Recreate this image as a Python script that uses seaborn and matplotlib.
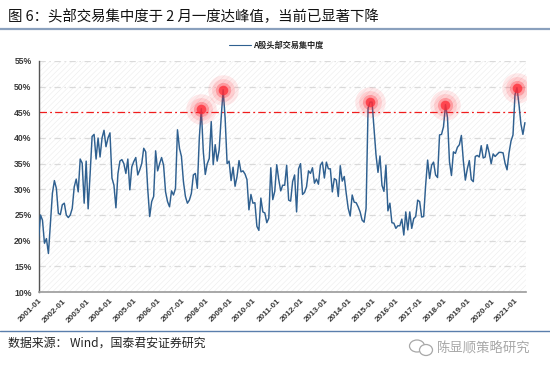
import numpy as np
import pandas as pd
import seaborn as sns
import matplotlib.pyplot as plt
from matplotlib.patches import Rectangle, Ellipse
from matplotlib.lines import Line2D

y2001 = [20, 25, 24, 19.5, 20.4, 17.5, 23.3, 29.2, 31.7, 30.2, 25.3, 25.1]
y2002 = [27, 27.3, 25, 24.5, 25, 26.3, 30.5, 32, 29.5, 35.9, 35.1, 27.3]
y2003 = [35.5, 26.2, 33, 40.3, 40.7, 35.9, 40, 36.3, 40, 41.5, 38.3, 40]
y2004 = [41, 32.2, 30.8, 26.4, 33, 35.5, 35.8, 35, 33.1, 35.9, 29.9, 34.4]
y2005 = [35.4, 36.2, 32.8, 33.8, 35, 38, 37.3, 30.2, 24.7, 27.6, 28.6, 37.5]
y2006 = [33.6, 35, 36.2, 34.7, 29.5, 27.6, 26.6, 29.7, 28.9, 30.2, 41.6, 38]
y2007 = [36.4, 31.5, 28.6, 27.3, 27.9, 29.2, 32.8, 33.1, 30.2, 40, 45.7, 37.4]
y2008 = [32.9, 35, 36, 43.2, 34.8, 38.7, 35.5, 37.7, 43.9, 49.4, 43.9, 35]
y2009 = [35.5, 31.7, 34.3, 30.6, 32.5, 35.6, 33.4, 33.6, 33, 31.9, 26, 29]
y2010 = [27.3, 27.4, 22.8, 22, 28.3, 25.6, 25.4, 23.5, 24.4, 34.2, 28, 29.6]
y2011 = [34.8, 31.9, 29.7, 30.8, 30.8, 34.7, 27.9, 27.7, 31.5, 32.8, 25.6, 34]
y2012 = [35, 29, 29.4, 30.5, 33.6, 33.1, 34.2, 31.2, 32, 31, 34.7, 35.3]
y2013 = [32.2, 35.3, 34, 34, 29.5, 32.1, 31.8, 28.6, 34.6, 31.6, 32.5, 29.2]
y2014 = [26.3, 24.8, 28.9, 27.5, 27.4, 26.6, 25.6, 24, 23.6, 26.3, 45.8, 47]
y2015 = [47, 41.9, 36.7, 33.3, 36.5, 30.8, 29.6, 34.7, 25.8, 27.3, 23.5, 23.4]
y2016 = [22.4, 22.9, 22.9, 24.2, 21.1, 25.6, 22.1, 25.6, 22.4, 24.3, 24.7, 27.9]
y2017 = [27.6, 24.6, 24.7, 30.8, 35.7, 32.1, 34.7, 35.3, 32.8, 32.3, 40.6, 40.7]
y2018 = [42.2, 46.5, 44, 35.4, 32.7, 37.3, 37, 38.2, 38.7, 40.5, 35.5, 31.8]
y2019 = [34, 35.6, 31.9, 31.5, 36.4, 36.6, 36.3, 38.5, 36.1, 36.3, 38.7, 37.1]
y2020 = [35, 36.9, 36.4, 36.8, 37.2, 37.2, 37.1, 35.1, 33.8, 37.1, 39.4, 40.6]
y2021 = [48.4, 49.8, 46.6, 42.7, 40.7, 43]

years = [y2001, y2002, y2003, y2004, y2005, y2006, y2007, y2008, y2009, y2010, y2011,
         y2012, y2013, y2014, y2015, y2016, y2017, y2018, y2019, y2020, y2021]
values = sum(years, [])
peak_months = ['2007-11', '2008-10', '2014-12', '2018-02', '2021-02']
y_ticks = [10, 15, 20, 25, 30, 35, 40, 45, 50, 55]
threshold = 45

title = '图 6\uff1a头部交易集中度于 2 月一度达峰值\uff0c当前已显著下降'
source = '数据来源\uff1a Wind\uff0c国泰君安证券研究'
series_name = 'A股头部交易集中度'
watermark = '陈显顺策略研究'

cjk = ['Noto Sans CJK SC', 'DejaVu Sans']
line_color = '#2f6090'

sns.set_theme(style='white')
plt.rcParams['font.family'] = ['Liberation Sans', 'Noto Sans CJK SC']
plt.rcParams['hatch.linewidth'] = 0.4
plt.rcParams['hatch.color'] = '#ececec'

W, H = 550, 373
fig = plt.figure(figsize=(W / 100, H / 100), dpi=100)
ax = fig.add_axes([38.5 / W, 1 - 292 / H, (525.5 - 38.5) / W, (292 - 61) / H])

months = pd.date_range('2001-01-01', periods=len(values), freq='MS').strftime('%Y-%m').tolist()
df = pd.DataFrame({'pos': range(len(values)), 'month': months, 'value': values})

# hatched plot background
ax.add_patch(Rectangle((0, 0), 1, 1, transform=ax.transAxes, facecolor='white',
                       edgecolor='#ececec', hatch='//////', linewidth=0, zorder=0))
for v in y_ticks[1:]:
    if v != threshold:
        ax.axhline(v, color='#dadada', linestyle=(0, (5, 3, 1, 3)), linewidth=0.9, zorder=1)
ax.axhline(threshold, color='#f01c1c', linestyle=(0, (6, 2.5, 1.5, 2.5)), linewidth=0.9, zorder=2)

sns.lineplot(data=df, x='pos', y='value', color=line_color, linewidth=1.05, ax=ax,
             legend=False, zorder=3)

# glow at peaks
peaks = df[df['month'].isin(peak_months)]
for size, alpha in [(480, 0.10), (270, 0.14), (120, 0.30), (48, 0.75)]:
    ax.scatter(peaks['pos'], peaks['value'], s=size, color='#ff2a35', alpha=alpha,
               linewidths=0, zorder=4)

ax.set_xlim(0, len(values) - 1 + 0.3)
ax.set_ylim(10, 55)
ax.set_xlabel('')
ax.set_ylabel('')
ax.set_yticks(y_ticks)
ax.set_yticklabels([f'{v}%' for v in y_ticks], fontsize=6.2, fontweight='bold', color='#3a3a3a')
ax.set_xticks(df['pos'][::12])
ax.set_xticklabels(df['month'][::12], rotation=45, ha='right', rotation_mode='anchor',
                   fontsize=5.9, fontweight='bold', color='#3a3a3a')
ax.tick_params(axis='y', length=0, pad=5)
ax.tick_params(axis='x', length=0, pad=4)
sns.despine(ax=ax, top=True, right=True)
ax.spines['left'].set_color('#555555')
ax.spines['left'].set_linewidth(1.0)
ax.spines['bottom'].set_color('#9a9a9a')
ax.spines['bottom'].set_linewidth(1.2)

# legend
handle = Line2D([], [], color=line_color, linewidth=0.8)
leg = ax.legend([handle], [series_name], loc='center', bbox_to_anchor=(276.5 / W, 1 - 45 / H),
                bbox_transform=fig.transFigure, frameon=False, handlelength=2.6, handletextpad=0.3,
                prop={'size': 5.9, 'weight': 'bold', 'family': cjk})

# header and footer
fig.text(8 / W, 1 - 17 / H, title, fontsize=10.4, family=cjk, color='#111111', va='center', ha='left')
fig.add_artist(Line2D([0, 1], [1 - 28.5 / H] * 2, color='#8aa0bd', linewidth=1.6))
fig.add_artist(Line2D([0, 1], [1 - 331 / H] * 2, color='#5a7eac', linewidth=1.0))
fig.text(8 / W, 1 - 343 / H, source, fontsize=8.6, family=cjk, color='#222222', va='center', ha='left')
fig.text(437 / W, 1 - 349 / H, watermark, fontsize=9.6, family=cjk, color='#a8a8a8', va='center', ha='left')

# wechat icon
for cx, cy, w, h in [(417, 346, 15, 12), (426, 350, 13, 11)]:
    fig.add_artist(Ellipse((cx / W, 1 - cy / H), w / W, h / H, transform=fig.transFigure,
                           facecolor='white', edgecolor='#a8a8a8', linewidth=0.9))

fig.savefig('out.png', dpi=100)
